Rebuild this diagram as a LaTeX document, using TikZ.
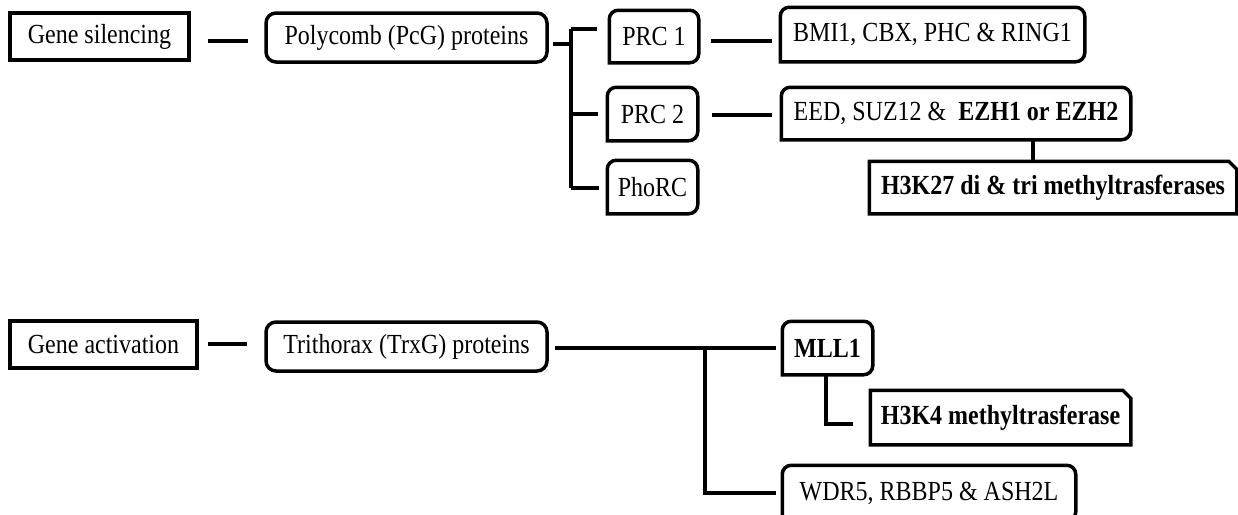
\documentclass[tikz,border=0pt]{standalone}
\usepackage{fontspec}
\setmainfont{Liberation Serif}
\newcommand\tx[1]{\scalebox{1}[1.15]{#1}}
\newcommand\tabshape[1]{\draw[outline, rounded corners=9pt, line cap=rect] (#1.south west) -- (#1.north west) -- (#1.north east) -- (#1.south east) -- (#1.south west);}
\newcommand\snipshape[1]{\draw[outline, line join=miter] (#1.south west) -- (#1.north west) -- ([xshift=-8pt]#1.north east) -- ([yshift=-8pt]#1.north east) -- (#1.south east) -- cycle;}
\begin{document}
\begin{tikzpicture}[x=1pt,y=-1pt,
  base/.style={font=\fontsize{24}{28}\selectfont, inner sep=0pt, line width=3.5pt},
  sqbox/.style={base, draw},
  rndbox/.style={base, draw, rounded corners=10pt},
  plainbox/.style={base},
  outline/.style={line width=3.5pt},
  conn/.style={line width=3.5pt}]
\useasboundingbox (0,0) rectangle (1238,514);
\clip (0,0) rectangle (1238,514);

% top group
\node[sqbox, minimum width=179pt, minimum height=47pt] (gs) at (99.5,36.5) {\tx{Gene silencing}};
\node[rndbox, minimum width=281pt, minimum height=49pt] (pcg) at (406.5,37.5) {\tx{Polycomb (PcG) proteins}};
\node[plainbox, minimum width=86pt, minimum height=49pt] (prc1) at (654,36.5) {\tx{PRC 1}};
\node[plainbox, minimum width=87pt, minimum height=50pt] (prc2) at (652.5,114) {\tx{PRC 2}};
\node[plainbox, minimum width=87pt, minimum height=50pt] (pho) at (652.5,187) {\tx{PhoRC}};
\node[plainbox, minimum width=301pt, minimum height=51pt] (bmi) at (932.5,34.5) {\tx{BMI1, CBX, PHC \& RING1}};
\node[plainbox, minimum width=346pt, minimum height=49pt] (eed) at (956,113.5) {\tx{EED, SUZ12 \&\ \ \textbf{EZH1 or EZH2}}};
\node[plainbox, minimum width=364pt, minimum height=49pt] (h27) at (1053,187.5) {\tx{\textbf{H3K27 di \& tri methyltrasferases}}};
\tabshape{prc1}
\tabshape{prc2}
\tabshape{pho}
\tabshape{bmi}
\tabshape{eed}
\snipshape{h27}

% bottom group
\node[sqbox, minimum width=187pt, minimum height=47pt] (ga) at (103.5,344.5) {\tx{Gene activation}};
\node[rndbox, minimum width=281pt, minimum height=49pt] (trx) at (406.5,346.5) {\tx{Trithorax (TrxG) proteins}};
\node[plainbox, minimum width=87pt, minimum height=50pt] (mll) at (827.5,348) {\tx{\textbf{MLL1}}};
\node[plainbox, minimum width=257pt, minimum height=51pt] (h34) at (1000.5,417.5) {\tx{\textbf{H3K4 methyltrasferase}}};
\node[plainbox, minimum width=290pt, minimum height=52pt] (wdr) at (929,493) {\tx{WDR5, RBBP5 \& ASH2L}};
\tabshape{mll}
\tabshape{wdr}
\snipshape{h34}

% coordinates
\coordinate (y41) at (0,41);
\coordinate (y44) at (0,44);
\coordinate (pj) at (571,44);
\coordinate (b1) at (571,29);
\coordinate (b2) at (571,114);
\coordinate (b3) at (571,188);
\coordinate (y115) at (0,115);
\coordinate (v1) at (1033,0);
\coordinate (y344) at (0,344);
\coordinate (y348) at (0,348);
\coordinate (t1) at (705,348);
\coordinate (t2) at (705,493);
\coordinate (m1) at (826,0);
\coordinate (m2) at (826,424);

% top connectors
\draw[conn, shorten <=17pt, shorten >=16pt] (gs.east |- y41) -- (pcg.west |- y41);
\draw[conn, shorten <=4pt] (pcg.east |- y44) -- (pj);
\draw[conn] (b1) -- (b3);
\draw[conn, shorten >=12pt] (b1) -- (b1 -| prc1.west);
\draw[conn, shorten >=9pt] (b2) -- (b2 -| prc2.west);
\draw[conn, shorten >=8pt] (b3) -- (b3 -| pho.west);
\draw[conn, shorten <=12pt, shorten >=8pt] (prc1.east |- y41) -- (bmi.west |- y41);
\draw[conn, shorten <=14pt, shorten >=9pt] (prc2.east |- y115) -- (eed.west |- y115);
\draw[conn] (eed.south -| v1) -- (h27.north -| v1);

% bottom connectors
\draw[conn, shorten <=9pt, shorten >=17pt] (ga.east |- y344) -- (trx.west |- y344);
\draw[conn, shorten <=6pt, shorten >=6pt] (trx.east |- y348) -- (mll.west |- y348);
\draw[conn, shorten >=6pt] (t1) -- (t2) -- (t2 -| wdr.west);
\draw[conn, shorten >=17pt] (mll.south -| m1) -- (m2) -- (m2 -| h34.west);
\end{tikzpicture}
\end{document}
